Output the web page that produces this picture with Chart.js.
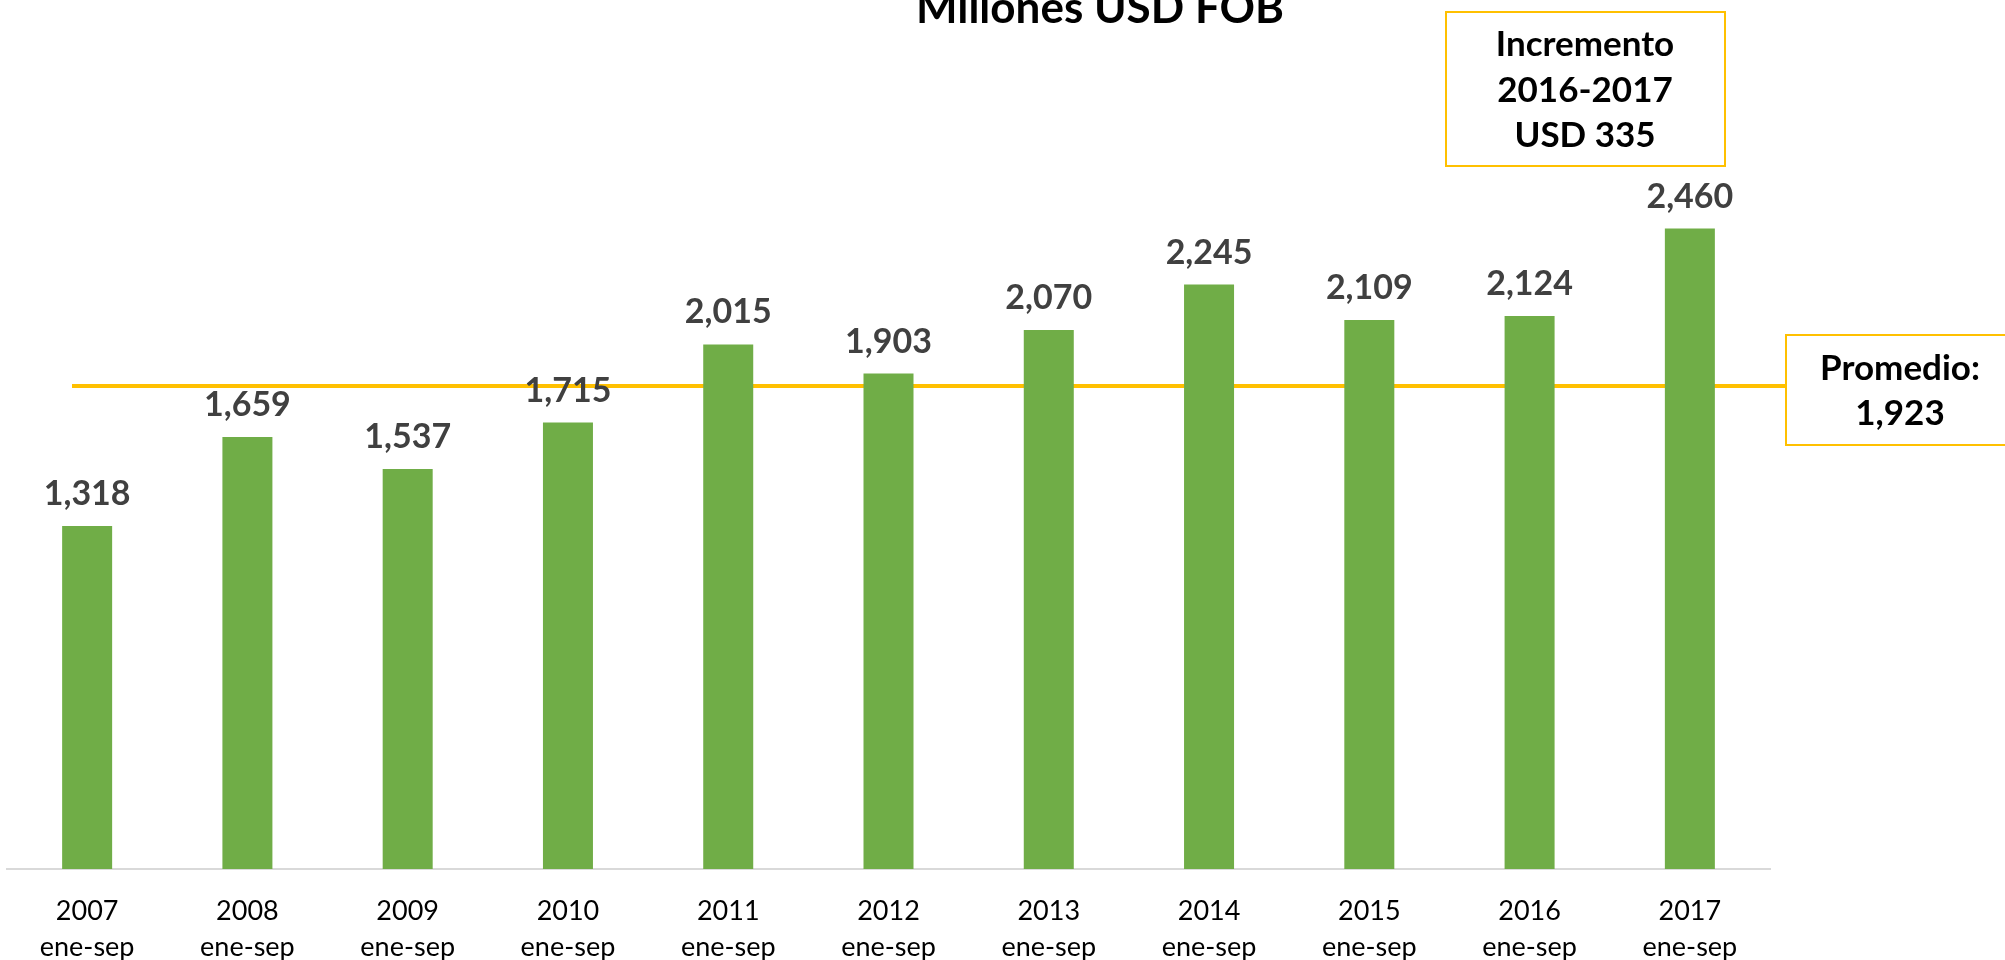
<!DOCTYPE html>
<html>
<head>
<meta charset="utf-8">
<script src="https://cdn.jsdelivr.net/npm/chart.js"></script>
<style>
  html, body { margin: 0; padding: 0; background: #fff; overflow: hidden; }
  canvas { display: block; }
</style>
</head>
<body>
<canvas id="chartId" width="2005" height="989"></canvas>
<script>
const years = ['2007', '2008', '2009', '2010', '2011', '2012', '2013', '2014', '2015', '2016', '2017'];
const period = 'ene-sep';
const exportValues = [1318, 1659, 1537, 1715, 2015, 1903, 2070, 2245, 2109, 2124, 2460];
const chartTitle = 'Millones USD FOB';
// the yellow line sits a bit under the stated average in the original
const averageLineAt = 1855;
const averageText = ['Promedio:', '1,923'];
const increaseText = ['Incremento', '2016-2017', 'USD 335'];

const GOLD = '#FFC000';
const FONT = 'Lato, "Open Sans", sans-serif';

function boxWithText(ctx, left, top, right, bottom, lines, baselines, cx) {
  ctx.save();
  ctx.fillStyle = '#ffffff';
  ctx.fillRect(left, top, right - left, bottom - top);
  ctx.strokeStyle = GOLD;
  ctx.lineWidth = 2;
  ctx.strokeRect(left, top, right - left, bottom - top);
  ctx.fillStyle = '#000000';
  ctx.font = 'bold 35px ' + FONT;
  ctx.textAlign = 'center';
  ctx.textBaseline = 'alphabetic';
  lines.forEach((t, i) => ctx.fillText(t, cx, baselines[i]));
  ctx.restore();
}

const extrasPlugin = {
  id: 'extras',
  beforeDatasetsDraw(chart) {
    const ctx = chart.ctx;
    const y = chart.scales.y.getPixelForValue(averageLineAt);
    ctx.save();
    ctx.strokeStyle = GOLD;
    ctx.lineWidth = 4;
    ctx.beginPath();
    ctx.moveTo(chart.chartArea.left + 65, y);
    ctx.lineTo(1786, y);
    ctx.stroke();
    ctx.restore();
  },
  afterDatasetsDraw(chart) {
    const ctx = chart.ctx;
    const meta = chart.getDatasetMeta(0);
    ctx.save();
    ctx.fillStyle = '#404040';
    ctx.font = 'bold 34px ' + FONT;
    ctx.textAlign = 'center';
    ctx.textBaseline = 'alphabetic';
    meta.data.forEach((bar, i) => {
      ctx.fillText(exportValues[i].toLocaleString('en-US'), bar.x, bar.y - 21);
    });
    ctx.restore();
  },
  afterDraw(chart) {
    const ctx = chart.ctx;
    ctx.save();
    ctx.fillStyle = '#000000';
    ctx.font = 'bold 44px ' + FONT;
    ctx.textAlign = 'center';
    ctx.textBaseline = 'alphabetic';
    ctx.fillText(chartTitle, 1100, 23);
    ctx.restore();

    boxWithText(ctx, 1446, 12, 1725, 166, increaseText, [56, 102, 147], 1585);
    boxWithText(ctx, 1786, 335, 2015, 445, averageText, [380, 425], 1900);
  }
};

var chrt = document.getElementById('chartId').getContext('2d');

new Chart(chrt, {
  type: 'bar',
  data: {
    labels: years.map(y => [y, period]),
    datasets: [{
      data: exportValues,
      backgroundColor: '#70AD47',
      borderWidth: 0,
      barPercentage: 0.312,
      categoryPercentage: 1
    }]
  },
  options: {
    responsive: false,
    animation: false,
    events: [],
    layout: { padding: { top: 88, left: 7, right: 235, bottom: 0 } },
    plugins: {
      legend: { display: false },
      title: { display: false },
      tooltip: { enabled: false }
    },
    scales: {
      x: {
        grid: { display: false, drawTicks: false },
        border: { display: true, color: '#D9D9D9', width: 2 },
        ticks: {
          color: '#000000',
          padding: 24,
          maxRotation: 0,
          autoSkip: false,
          font: { family: FONT, size: 27, lineHeight: 1.333 }
        }
      },
      y: {
        display: false,
        min: 0,
        max: 3000
      }
    }
  },
  plugins: [extrasPlugin]
});
</script>
</body>
</html>
